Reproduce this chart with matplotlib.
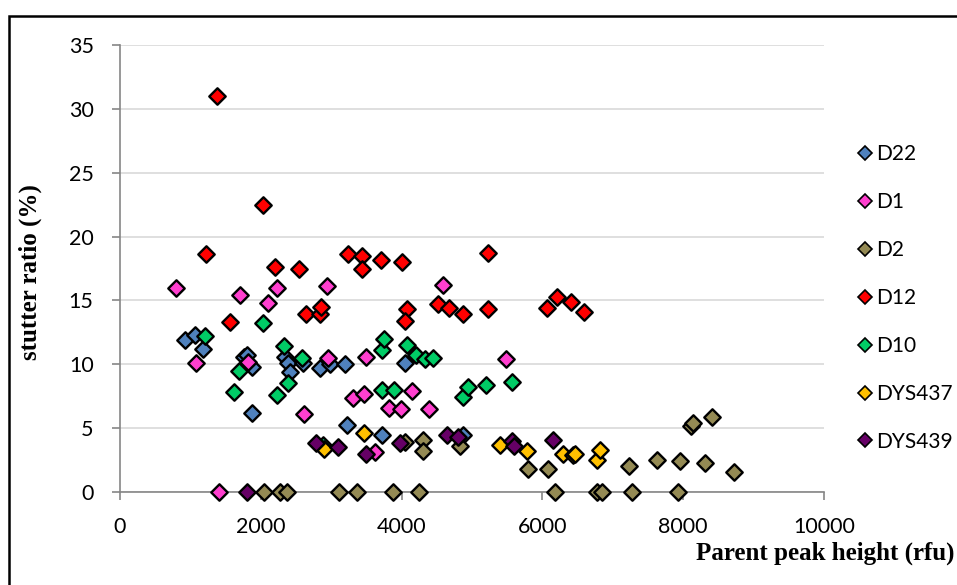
import matplotlib
matplotlib.use("Agg")
import matplotlib.pyplot as plt
from matplotlib.lines import Line2D
from matplotlib.patches import Rectangle

# series data (parent peak height in rfu, stutter ratio in %)
d22_x = [923, 1065, 1184, 1760, 1799, 1870, 1870, 2344, 2391, 2415, 2600, 2841, 2983, 3196, 3220, 3717, 4048, 4877]
d22_y = [11.9, 12.3, 11.2, 10.6, 10.7, 9.8, 6.2, 10.6, 10.1, 9.4, 10.1, 9.7, 10.0, 10.0, 5.25, 4.45, 10.1, 4.5]

d1_x = [795, 1080, 1406, 1705, 1823, 2098, 2225, 2614, 2936, 2959, 3314, 3471, 3494, 3622, 3826, 3991, 4152, 4389, 4583, 5483]
d1_y = [16.0, 10.1, 0, 15.4, 10.2, 14.8, 16.0, 6.1, 16.1, 10.5, 7.35, 7.7, 10.6, 3.15, 6.6, 6.5, 7.9, 6.5, 16.2, 10.4]

d2_x = [2050, 2273, 2377, 3115, 3371, 3882, 4251, 4048, 4300, 4300, 4830, 5790, 6084, 6179, 6780, 6851,
        7230, 7277, 7623, 7921, 7955, 8111, 8144, 8310, 8413, 8726]
d2_y = [0, 0, 0, 0, 0, 0, 0, 3.9, 4.1, 3.2, 3.6, 1.8, 1.8, 0, 0, 0,
        2.05, 0, 2.5, 0, 2.45, 5.2, 5.4, 2.3, 5.85, 1.55]

d12_x = [1373, 2036, 1222, 2202, 2538, 3239, 1562, 2642, 2841, 2855, 3433, 3442, 3707, 4001, 5232,
         4081, 4048, 4512, 4678, 4877, 5223, 6061, 6212, 6401, 6591]
d12_y = [31.0, 22.5, 18.6, 17.6, 17.5, 18.6, 13.3, 13.9, 13.9, 14.5, 18.5, 17.5, 18.2, 18.0, 18.7,
         14.3, 13.4, 14.7, 14.4, 13.9, 14.3, 14.4, 15.3, 14.9, 14.1]

d10_x = [1207, 1624, 1695, 2036, 2225, 2334, 2391, 2580, 2880, 3726, 3726, 3755, 3897, 4072, 4200,
         4332, 4451, 4867, 4938, 5194, 5564]
d10_y = [12.2, 7.85, 9.5, 13.2, 7.6, 11.45, 8.5, 10.5, 3.7, 11.1, 8.0, 12.0, 8.0, 11.5, 10.7,
         10.4, 10.5, 7.4, 8.2, 8.4, 8.6]

dys437_x = [2898, 3470, 5398, 5776, 6297, 6439, 6460, 6780, 6818]
dys437_y = [3.4, 4.6, 3.7, 3.2, 3.0, 2.9, 2.95, 2.5, 3.3]

dys439_x = [1799, 2784, 3092, 3494, 3977, 4640, 4806, 5563, 5601, 6146]
dys439_y = [0, 3.8, 3.5, 3.0, 3.8, 4.45, 4.3, 4.0, 3.6, 4.1]

series = [
    ("D22", d22_x, d22_y, "#4F81BD"),
    ("D1", d1_x, d1_y, "#FF3FCF"),
    ("D2", d2_x, d2_y, "#948A54"),
    ("D12", d12_x, d12_y, "#FF0000"),
    ("D10", d10_x, d10_y, "#00CC66"),
    ("DYS437", dys437_x, dys437_y, "#FFC000"),
    ("DYS439", dys439_x, dys439_y, "#660066"),
]

x_ticks = [0, 2000, 4000, 6000, 8000, 10000]
y_ticks = [0, 5, 10, 15, 20, 25, 30, 35]

W, H = 957, 585
fig = plt.figure(figsize=(W / 100, H / 100), dpi=100)
ax = fig.add_axes([120 / W, (H - 492) / H, (824 - 120) / W, (492 - 45) / H])

for name, xs, ys, col in series:
    ax.scatter(xs, ys, s=70, marker="D", c=col, edgecolors="black", linewidths=1.7,
               zorder=3, clip_on=False)

ax.set_xlim(0, 10000)
ax.set_ylim(0, 35)
ax.set_xticks(x_ticks)
ax.set_yticks(y_ticks)
ax.yaxis.grid(True, color="#D9D9D9", linewidth=1.2)
ax.set_axisbelow(True)
for s in ["top", "right"]:
    ax.spines[s].set_visible(False)
for s in ["left", "bottom"]:
    ax.spines[s].set_color("#868686")
    ax.spines[s].set_linewidth(1.2)
ax.tick_params(axis="both", direction="out", length=6, width=1.2, color="#868686",
               labelsize=15.5, labelcolor="black")
ax.tick_params(axis="x", pad=12)
ax.tick_params(axis="y", pad=13)
for lab in ax.get_xticklabels() + ax.get_yticklabels():
    lab.set_fontfamily("Lato")

fig.text(30 / W, (H - 272) / H, "stutter ratio (%)", rotation=90, ha="center", va="center",
         fontsize=18, fontweight="bold", family="Liberation Serif")
fig.text(955 / W, (H - 553) / H, "Parent peak height (rfu)", ha="right", va="center",
         fontsize=18, fontweight="bold", family="Liberation Serif")

handles = [Line2D([], [], linestyle="none", marker="D", markersize=7, markerfacecolor=c,
                  markeredgecolor="black", markeredgewidth=1.2) for _, _, _, c in series]
labels = [n for n, _, _, _ in series]
leg = fig.legend(handles, labels, loc="center left", bbox_to_anchor=(846 / W, (H - 298) / H),
                 frameon=False, labelspacing=1.34, handlelength=0.8,
                 handletextpad=0.15, borderpad=0, prop={"family": "Lato", "size": 15})

fig.patches.append(Rectangle((8.5 / W, -0.05), 1.2, (H - 15.5) / H + 0.05,
                             transform=fig.transFigure, fill=False, edgecolor="black",
                             linewidth=1.8))

fig.savefig("out.png", dpi=100)
